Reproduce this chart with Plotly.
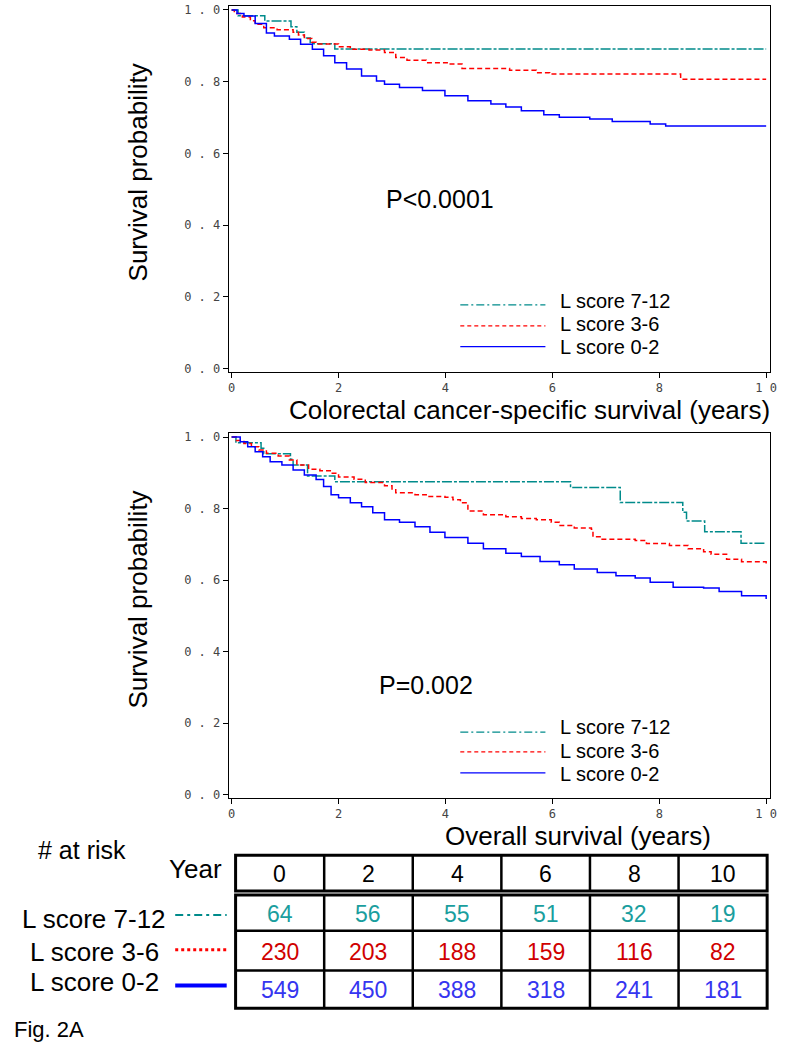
import plotly.graph_objects as go

W, H = 788, 1050

# ---------------- data ----------------
x_tick_vals = [0, 2, 4, 6, 8, 10]
x_tick_text = ["0", "2", "4", "6", "8", "1 0"]
y_tick_vals = [0.0, 0.2, 0.4, 0.6, 0.8, 1.0]
y_tick_text = ["0 . 0", "0 . 2", "0 . 4", "0 . 6", "0 . 8", "1 . 0"]

groups = ["L score 7-12", "L score 3-6", "L score 0-2"]
line_colors = ["#008B8B", "#FF0000", "#0000FF"]
number_colors = ["#1A9E9E", "#D00000", "#3535F0"]

# Colorectal cancer-specific survival (top panel)
css_t_712 = [0, 0.12, 0.62, 1.11, 1.22, 1.36, 1.47, 1.93, 10.0]
css_s_712 = [1.0, 0.984, 0.969, 0.953, 0.938, 0.922, 0.906, 0.891, 0.891]

css_t_36 = [0, 0.05, 0.2, 0.35, 0.44, 0.6, 0.85, 1.15, 1.25, 1.36, 1.5, 1.58, 2.0, 2.22,
            2.57, 2.86, 3.07, 3.28, 3.64, 4.07, 4.31, 5.2, 5.7, 5.95, 8.4, 10.0]
css_s_36 = [1.0, 0.99, 0.98, 0.97, 0.96, 0.95, 0.945, 0.938, 0.93, 0.92, 0.91, 0.905, 0.897, 0.89,
            0.888, 0.881, 0.867, 0.86, 0.853, 0.849, 0.837, 0.832, 0.825, 0.821, 0.807, 0.807]

css_t_02 = [0, 0.1, 0.23, 0.44, 0.65, 0.8, 1.08, 1.29, 1.51, 1.72, 1.93, 2.15, 2.43, 2.71, 2.86,
            3.14, 3.57, 3.99, 4.42, 4.85, 5.13, 5.42, 5.84, 6.13, 6.7, 7.12, 7.83, 8.12, 10.0]
css_s_02 = [1.0, 0.99, 0.983, 0.962, 0.936, 0.927, 0.918, 0.904, 0.89, 0.872, 0.853, 0.835, 0.816,
            0.802, 0.793, 0.784, 0.775, 0.761, 0.747, 0.738, 0.729, 0.719, 0.708, 0.701, 0.696,
            0.689, 0.682, 0.676, 0.676]

# Overall survival (bottom panel)
os_t_712 = [0, 0.08, 0.55, 0.6, 1.1, 1.15, 1.42, 1.93, 6.34, 7.27, 8.44, 8.51, 8.85, 9.53, 10.0]
os_s_712 = [1.0, 0.984, 0.969, 0.953, 0.938, 0.922, 0.891, 0.875, 0.859, 0.817, 0.79, 0.765,
            0.735, 0.703, 0.703]

os_t_36 = [0, 0.085, 0.23, 0.37, 0.51, 0.65, 0.87, 1.08, 1.22, 1.44, 1.65, 1.86, 2.0, 2.29, 2.5,
           2.86, 3.0, 3.07, 3.43, 3.64, 3.99, 4.14, 4.28, 4.42, 4.71, 5.13, 5.42, 5.7, 5.98, 6.13,
           6.41, 6.73, 6.76, 6.91, 7.55, 7.76, 8.19, 8.54, 8.83, 8.97, 9.26, 9.54, 10.0]
os_s_36 = [1.0, 0.99, 0.982, 0.973, 0.964, 0.955, 0.947, 0.936, 0.922, 0.91, 0.906, 0.899, 0.888,
           0.882, 0.873, 0.864, 0.855, 0.844, 0.839, 0.834, 0.832, 0.825, 0.816, 0.793, 0.783,
           0.777, 0.772, 0.769, 0.762, 0.753, 0.746, 0.742, 0.721, 0.714, 0.711, 0.702, 0.697,
           0.688, 0.679, 0.672, 0.658, 0.651, 0.644]

os_t_02 = [0, 0.16, 0.3, 0.44, 0.58, 0.72, 0.94, 1.15, 1.36, 1.58, 1.72, 1.86, 2.0, 2.22, 2.43,
           2.64, 2.86, 3.14, 3.43, 3.71, 3.99, 4.42, 4.71, 5.13, 5.42, 5.77, 6.13, 6.41, 6.84,
           7.19, 7.55, 7.83, 8.26, 8.83, 9.12, 9.54, 10.0]
os_s_02 = [1.0, 0.987, 0.973, 0.959, 0.945, 0.931, 0.922, 0.908, 0.894, 0.881, 0.862, 0.839, 0.83,
           0.816, 0.805, 0.788, 0.769, 0.762, 0.749, 0.734, 0.719, 0.703, 0.688, 0.675, 0.666,
           0.652, 0.643, 0.631, 0.621, 0.612, 0.606, 0.594, 0.58, 0.578, 0.568, 0.556, 0.547]

table_years = [0, 2, 4, 6, 8, 10]
at_risk_712 = [64, 56, 55, 51, 32, 19]
at_risk_36 = [230, 203, 188, 159, 116, 82]
at_risk_02 = [549, 450, 388, 318, 241, 181]

css_p_text = "P<0.0001"
os_p_text = "P=0.002"

# ---------------- helpers ----------------
def X(px):
    return px / W

def Y(py):
    return 1 - py / H

SANS = "Liberation Sans, Arial, Helvetica, sans-serif"
MONO = "DejaVu Sans Mono, Liberation Mono, monospace"
curve_dash = ["10px,2px,3px,2px", "5px,3px", "solid"]

fig = go.Figure()

css_sets = [(css_t_712, css_s_712), (css_t_36, css_s_36), (css_t_02, css_s_02)]
os_sets = [(os_t_712, os_s_712), (os_t_36, os_s_36), (os_t_02, os_s_02)]

for i, (t, s) in enumerate(css_sets):
    fig.add_trace(go.Scatter(x=t, y=s, mode="lines", line_shape="hv",
                             line=dict(color=line_colors[i], width=1.5, dash=curve_dash[i]),
                             name=groups[i], showlegend=False, xaxis="x", yaxis="y"))
for i, (t, s) in enumerate(os_sets):
    fig.add_trace(go.Scatter(x=t, y=s, mode="lines", line_shape="hv",
                             line=dict(color=line_colors[i], width=1.5, dash=curve_dash[i]),
                             name=groups[i], showlegend=False, xaxis="x2", yaxis="y2"))

axis_common = dict(showgrid=False, zeroline=False, showline=True, linecolor="#000000",
                   linewidth=1, mirror=True, ticks="outside", ticklen=5, tickwidth=1,
                   tickcolor="#000000", tickfont=dict(family=MONO, size=12, color="#444444"))

x_dom = [X(230), X(777)]
x_rng = [-0.056, 10.074]
y_rng = [-0.0083, 1.011]

fig.update_layout(
    width=W, height=H, margin=dict(l=0, r=0, t=0, b=0),
    paper_bgcolor="white", plot_bgcolor="white", showlegend=False,
    xaxis=dict(domain=x_dom, range=x_rng, anchor="y", tickvals=x_tick_vals,
               ticktext=x_tick_text, **axis_common),
    yaxis=dict(domain=[Y(371), Y(3)], range=y_rng, anchor="x", tickvals=y_tick_vals,
               ticktext=y_tick_text, **axis_common),
    xaxis2=dict(domain=x_dom, range=x_rng, anchor="y2", tickvals=x_tick_vals,
                ticktext=x_tick_text, **axis_common),
    yaxis2=dict(domain=[Y(800), Y(433)], range=y_rng, anchor="x2", tickvals=y_tick_vals,
                ticktext=y_tick_text, **axis_common),
)

ann = []
shapes = []

def text(px, py, s, size, color="#000000", xanchor="center", angle=0):
    ann.append(dict(x=X(px), y=Y(py), xref="paper", yref="paper", text=s, showarrow=False,
                    xanchor=xanchor, yanchor="middle", textangle=angle,
                    font=dict(family=SANS, size=size, color=color)))

# axis titles
text(138, 171, "Survival probability", 26, angle=-90)
text(138, 601, "Survival probability", 26, angle=-90)
text(534, 410, "Colorectal cancer-specific survival (years)", 26)
text(583, 839, "Overall survival (years)", 26)

# p-values
text(443, 197, css_p_text, 25)
text(429, 687, os_p_text, 25)

# in-plot legends
legend_dash = ["8px,3px,2px,3px", "4px,3px", "solid"]
for panel_lines, panel_texts in [((304, 325, 346), (300, 323, 346)),
                                 ((734, 754, 775), (729, 753, 776))]:
    for i in range(3):
        shapes.append(dict(type="line", xref="paper", yref="paper",
                           x0=X(464), x1=X(550), y0=Y(panel_lines[i]), y1=Y(panel_lines[i]),
                           line=dict(color=line_colors[i], width=1.3, dash=legend_dash[i])))
        text(563, panel_texts[i], groups[i], 20, xanchor="left")

# ---------------- at-risk table ----------------
tl, tr = 237, 774
head_top, head_bot = 858, 894
body_top, body_bot = 898, 1012
row_lines = [934, 974]
ncol = len(table_years)
cw = (tr - tl) / ncol

shapes.append(dict(type="rect", xref="paper", yref="paper", x0=X(tl), x1=X(tr),
                   y0=Y(head_bot), y1=Y(head_top), line=dict(color="#000", width=3)))
shapes.append(dict(type="rect", xref="paper", yref="paper", x0=X(tl), x1=X(tr),
                   y0=Y(body_bot), y1=Y(body_top), line=dict(color="#000", width=3)))
for k in range(1, ncol):
    xx = tl + k * cw
    for (a, b) in [(head_top, head_bot), (body_top, body_bot)]:
        shapes.append(dict(type="line", xref="paper", yref="paper", x0=X(xx), x1=X(xx),
                           y0=Y(a), y1=Y(b), line=dict(color="#000", width=2.5)))
for ry in row_lines:
    shapes.append(dict(type="line", xref="paper", yref="paper", x0=X(tl), x1=X(tr),
                       y0=Y(ry), y1=Y(ry), line=dict(color="#000", width=2.5)))

row_centers = [917, 955, 994]
for k, yr in enumerate(table_years):
    cx = tl + (k + 0.5) * cw
    text(cx, 877, str(yr), 23)
    for r, vals in enumerate([at_risk_712, at_risk_36, at_risk_02]):
        text(cx, row_centers[r], str(vals[k]), 23, color=number_colors[r])

text(82, 853, "# at risk", 25)
text(196, 872, "Year", 26)
label_y = [922, 955, 986]
for r in range(3):
    text(94, label_y[r], groups[r], 26)

table_line_dash = ["8px,4px,3px,4px", "dot", "solid"]
table_line_w = [2, 3, 4]
sample_y = [918, 953, 989]
for r in range(3):
    shapes.append(dict(type="line", xref="paper", yref="paper", x0=X(176), x1=X(228),
                       y0=Y(sample_y[r]), y1=Y(sample_y[r]),
                       line=dict(color=line_colors[r], width=table_line_w[r],
                                 dash=table_line_dash[r])))

text(11, 1033, "Fig. 2A", 22, xanchor="left")

fig.update_layout(annotations=ann, shapes=shapes)
fig.write_html("out.html", config={"displayModeBar": False},
               post_script="document.body.style.margin='0px';document.body.style.overflow='hidden';")
